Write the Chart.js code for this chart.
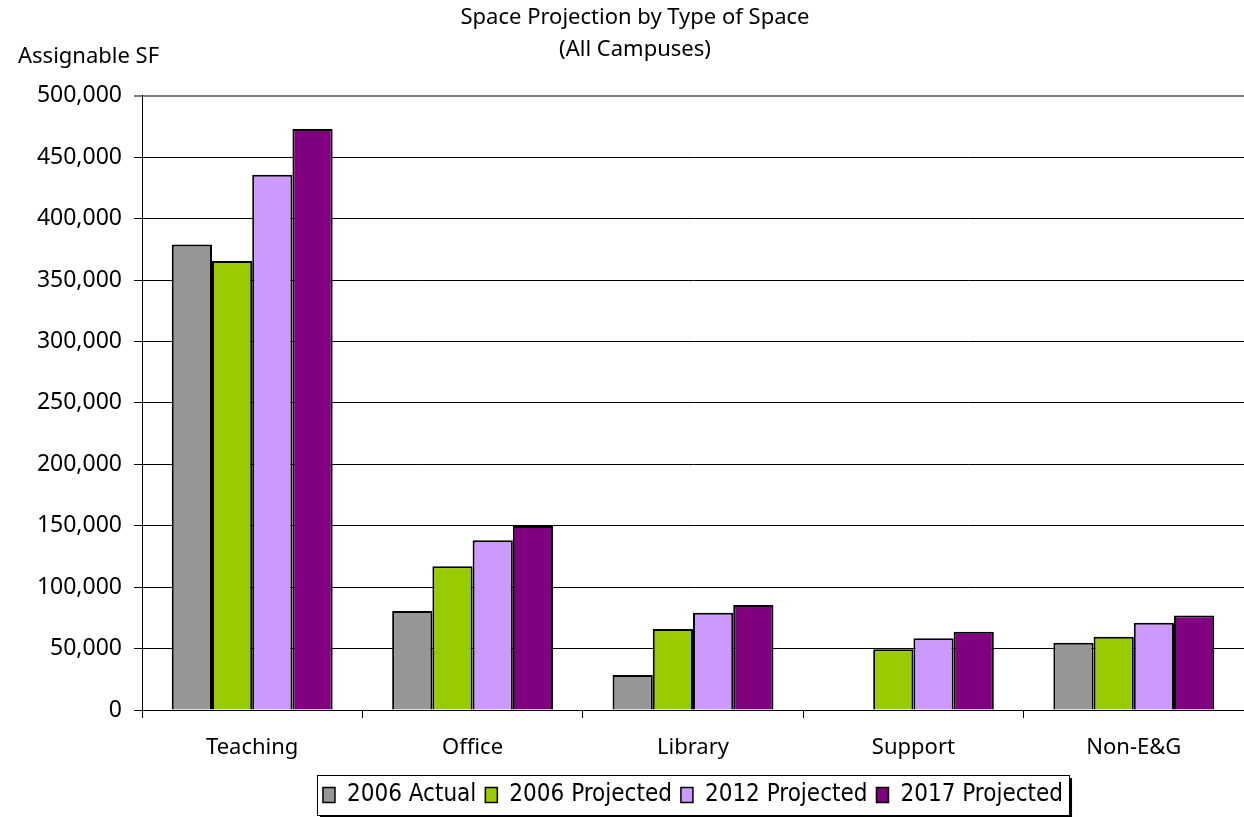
<!DOCTYPE html>
<html>
<head>
<meta charset="utf-8">
<script src="https://cdn.jsdelivr.net/npm/chart.js@4"></script>
<style>
  html, body { margin: 0; padding: 0; background: #fff; }
  #wrap { width: 1244px; height: 817px; position: relative; }
</style>
</head>
<body>
<div id="wrap"><canvas id="c"></canvas></div>
<script>
// Space projection data (assignable SF)
const categories = ['Teaching', 'Office', 'Library', 'Support', 'Non-E&G'];
const actual2006 = [379000, 80500, 28500, null, 54800];
const proj2006 = [365600, 117000, 65900, 49400, 59600];
const proj2012 = [435800, 138200, 79100, 58500, 71000];
const proj2017 = [472900, 149800, 85400, 63700, 77000];
const seriesNames = ['2006 Actual', '2006 Projected', '2012 Projected', '2017 Projected'];
const seriesColors = ['#969696', '#99CC00', '#CC99FF', '#800080'];
const yMax = 500000;
const yStep = 50000;

const FONT = '"Noto Sans", "Open Sans", sans-serif';
const LEGEND_FONT = '"DejaVu Sans Condensed", "Liberation Sans Narrow", "Noto Sans", sans-serif';

const ds = (i, data) => ({
  label: seriesNames[i],
  data,
  backgroundColor: seriesColors[i],
  borderColor: '#000',
  borderWidth: 2,
  borderSkipped: 'bottom',
  categoryPercentage: 0.73,
  barPercentage: 1.0
});

// y-axis caption + framed legend with drop shadow
const extras = {
  id: 'extras',
  beforeDraw(chart) {
    const lg = chart.legend;
    if (!lg || !lg.legendHitBoxes.length) return;
    const hb = lg.legendHitBoxes;
    const l = Math.min(...hb.map(h => h.left)) - 6;
    const r = Math.max(...hb.map(h => h.left + h.width)) + 6;
    const t = Math.min(...hb.map(h => h.top)) - 8;
    const b = Math.max(...hb.map(h => h.top + h.height)) + 8;
    const c = chart.ctx;
    c.save();
    c.fillStyle = '#000';
    c.fillRect(l + 3, t + 3, r - l, b - t);
    c.fillStyle = '#fff';
    c.fillRect(l, t, r - l, b - t);
    c.strokeStyle = '#000';
    c.lineWidth = 1;
    c.strokeRect(l + 0.5, t + 0.5, r - l, b - t);
    c.restore();
  },
  afterDraw(chart) {
    const c = chart.ctx;
    c.save();
    c.font = '22px ' + FONT;
    c.fillStyle = '#000';
    c.textBaseline = 'middle';
    c.fillText('Assignable SF', 18, 57);
    c.restore();
  }
};

new Chart(document.getElementById('c'), {
  type: 'bar',
  data: {
    labels: categories,
    datasets: [ds(0, actual2006), ds(1, proj2006), ds(2, proj2012), ds(3, proj2017)]
  },
  plugins: [extras],
  options: {
    responsive: true,
    maintainAspectRatio: false,
    animation: false,
    layout: { padding: { left: 26, right: 0, top: 2, bottom: 0 } },
    plugins: {
      title: {
        display: true,
        text: ['Space Projection by Type of Space', '(All Campuses)'],
        color: '#000',
        font: { family: FONT, size: 22, weight: 'normal', lineHeight: 1.45 },
        padding: { top: 0, bottom: 30 }
      },
      legend: {
        position: 'bottom',
        fullSize: false,
        labels: {
          color: '#000',
          font: { family: LEGEND_FONT, size: 24 },
          boxWidth: 12,
          boxHeight: 15,
          padding: 9,
          generateLabels(chart) {
            return chart.data.datasets.map((d, i) => ({
              text: d.label,
              fillStyle: d.backgroundColor,
              strokeStyle: '#000',
              lineWidth: 1.5,
              datasetIndex: i
            }));
          }
        }
      },
      tooltip: { enabled: false }
    },
    scales: {
      x: {
        grid: { drawOnChartArea: false, offset: true, tickLength: 8, color: '#000' },
        border: { color: '#000', width: 1 },
        ticks: { color: '#000', font: { family: FONT, size: 22 }, padding: 17 },
        afterFit(s) { s.height = 64; }
      },
      y: {
        min: 0,
        max: yMax,
        ticks: {
          stepSize: yStep,
          color: '#000',
          font: { family: FONT, size: 23 },
          padding: 12,
          callback: v => Number(v).toLocaleString('en-US')
        },
        grid: {
          tickLength: 8,
          color: c => (c.tick && c.tick.value === yMax) ? '#808080' : '#000',
          lineWidth: c => (c.tick && c.tick.value === yMax) ? 2 : 1
        },
        border: { color: '#000', width: 1 },
        afterFit(s) { s.width = 116; }
      }
    }
  }
});
</script>
</body>
</html>
